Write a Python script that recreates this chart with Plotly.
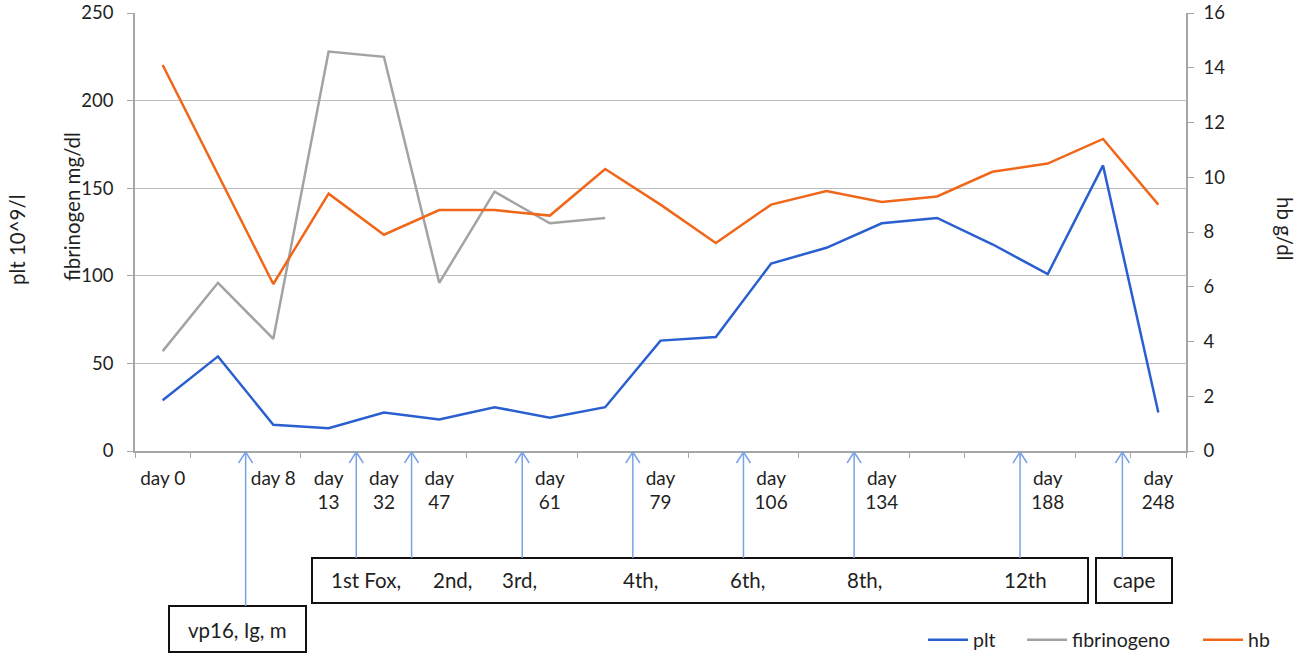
import plotly.graph_objects as go

# ---------------- data ----------------
x_index = list(range(19))
x_labels = ["day 0", "", "day 8", "day<br>13", "day<br>32", "day<br>47", "",
            "day<br>61", "", "day<br>79", "", "day<br>106", "", "day<br>134",
            "", "", "day<br>188", "", "day<br>248"]
plt_vals = [29, 54, 15, 13, 22, 18, 25, 19, 25, 63, 65, 107, 116, 130, 133,
            118, 101, 163, 22]
fib_vals = [57, 96, 64, 228, 225, 96, 148, 130, 133, None, None, None, None,
            None, None, None, None, None, None]
hb_vals = [14.1, 10.1, 6.1, 9.4, 7.9, 8.8, 8.8, 8.6, 10.3, 9.0, 7.6, 9.0, 9.5,
           9.1, 9.3, 10.2, 10.5, 11.4, 9.0]

series_names = ["plt", "fibrinogeno", "hb"]
box_texts = ["vp16, Ig, m", "1st Fox,", "2nd,", "3rd,", "4th,", "6th,", "8th,",
             "12th", "cape"]
# positions (category boundaries) where treatment arrows point
fox_arrows = [3.5, 4.5, 6.5, 8.5, 10.5, 12.5, 15.5]
vp_arrow = 1.5
cape_arrow = 17.35

# ---------------- geometry helpers ----------------
W, H = 1299, 660
PLOT_L, PLOT_R, PLOT_T, PLOT_B = 135, 1186, 13, 451   # target page pixels
ML = PLOT_L
MT = PLOT_T
PW = PLOT_R - PLOT_L
PH = PLOT_B - PLOT_T
MR = W - ML - PW
MB = H - MT - PH


def px(xp):
    return (xp - PLOT_L) / PW


def py(yp):
    return (PLOT_B - yp) / PH


FONT = "Lato"
TXT = "#1f1f1f"
GRID = "#bdbdbd"
AXL = "#a6a6a6"
BLUE = "#2a5fd0"
GRAY = "#a3a3a3"
ORANGE = "#f0671a"
ARROW = "#7aa3e5"

legend_ids = ["legend", "legend2", "legend3"]
fig = go.Figure()
fig.add_trace(go.Scatter(x=x_index, y=plt_vals, name=series_names[0], mode="lines",
                         line=dict(color=BLUE, width=2.5), yaxis="y",
                         legend=legend_ids[0]))
fig.add_trace(go.Scatter(x=x_index, y=fib_vals, name=series_names[1], mode="lines",
                         line=dict(color=GRAY, width=2.5), yaxis="y",
                         legend=legend_ids[1]))
fig.add_trace(go.Scatter(x=x_index, y=hb_vals, name=series_names[2], mode="lines",
                         line=dict(color=ORANGE, width=2.5), yaxis="y2",
                         legend=legend_ids[2]))

shapes = []
annotations = []

# boxes
boxes = [
    (169, 606, 306, 652),
    (312, 558, 1088, 603),
    (1096, 558, 1172, 603),
]
for (x0, y0, x1, y1) in boxes:
    shapes.append(dict(type="rect", xref="paper", yref="paper",
                       x0=px(x0), x1=px(x1), y0=py(y0), y1=py(y1),
                       line=dict(color="#111111", width=2), fillcolor="rgba(0,0,0,0)"))

# arrows
arrow_specs = [(vp_arrow, 606)] + [(a, 558) for a in fox_arrows] + [(cape_arrow, 558)]
for (xa, ybot) in arrow_specs:
    shapes.append(dict(type="line", xref="x", yref="paper", x0=xa, x1=xa,
                       y0=py(ybot), y1=py(452), line=dict(color=ARROW, width=1.5)))
    for dx in (-7, 7):
        shapes.append(dict(type="line", xref="x", yref="paper",
                           xsizemode="pixel", xanchor=xa,
                           ysizemode="pixel", yanchor=py(452),
                           x0=0, y0=0, x1=dx, y1=-11,
                           line=dict(color=ARROW, width=1.5)))

# box texts
BOXFONT = dict(family=FONT, size=20.5, color=TXT)
annotations.append(dict(text=box_texts[0], xref="paper", yref="paper",
                        x=px(237), y=py(630), xanchor="center", yanchor="middle",
                        showarrow=False, font=BOXFONT))
fox_lefts = [329, 431, 500, 621, 728, 845, 1002]
for t, xl in zip(box_texts[1:8], fox_lefts):
    annotations.append(dict(text=t, xref="paper", yref="paper", x=px(xl), y=py(580),
                            xanchor="left", yanchor="middle", showarrow=False,
                            font=BOXFONT))
annotations.append(dict(text=box_texts[8], xref="paper", yref="paper",
                        x=px(1134), y=py(580), xanchor="center", yanchor="middle",
                        showarrow=False, font=BOXFONT))

# axis titles
TFONT = dict(family=FONT, size=20.5, color=TXT)
annotations.append(dict(text="fibrinogen mg/dl", xref="paper", yref="paper",
                        x=px(72), y=py(207), textangle=-90, showarrow=False,
                        xanchor="center", yanchor="middle", font=TFONT))
annotations.append(dict(text="plt 10^9/l", xref="paper", yref="paper",
                        x=px(17), y=py(240), textangle=-90, showarrow=False,
                        xanchor="center", yanchor="middle", font=TFONT))
annotations.append(dict(text="hb g/dl", xref="paper", yref="paper",
                        x=px(1285), y=py(228), textangle=90, showarrow=False,
                        xanchor="center", yanchor="middle", font=TFONT))

LEGFONT = dict(family=FONT, size=19.5, color=TXT)
leg_common = dict(orientation="h", yanchor="middle", y=py(640), xanchor="left",
                  font=LEGFONT, bgcolor="rgba(0,0,0,0)", borderwidth=0,
                  itemwidth=40)

fig.update_layout(
    width=W, height=H,
    margin=dict(l=ML, r=MR, t=MT, b=MB, pad=0, autoexpand=False),
    paper_bgcolor="white", plot_bgcolor="white",
    font=dict(family=FONT, size=17, color=TXT),
    showlegend=True,
    legend=dict(x=px(928 - 5), **leg_common),
    legend2=dict(x=px(1027 - 5), **leg_common),
    legend3=dict(x=px(1203 - 5), **leg_common),
    xaxis=dict(type="category", range=[-0.5, 18.5], tickmode="array",
               tickvals=x_index, ticktext=x_labels, tickson="boundaries",
               ticks="outside", ticklen=5, tickcolor=AXL, showgrid=False,
               showline=True, linecolor=AXL, linewidth=1.5, zeroline=False,
               automargin=False, ticklabelstandoff=9,
               tickfont=dict(family=FONT, size=19, color=TXT)),
    yaxis=dict(range=[0, 250], dtick=50, showgrid=True, gridcolor=GRID, gridwidth=1.2,
               zeroline=False, showline=True, linecolor=AXL, linewidth=1.5,
               ticks="outside", ticklen=6, tickcolor=AXL, automargin=False,
               ticklabelstandoff=10, ticklabeloverflow="allow",
               tickfont=dict(family=FONT, size=18.5, color=TXT)),
    yaxis2=dict(range=[0, 16], dtick=2, overlaying="y", side="right", showgrid=False,
                zeroline=False, showline=True, linecolor=AXL, linewidth=1.5,
                ticks="outside", ticklen=6, tickcolor=AXL, automargin=False,
                ticklabelstandoff=6, ticklabeloverflow="allow",
                tickfont=dict(family=FONT, size=18.5, color=TXT)),
    shapes=shapes,
    annotations=annotations,
)

fig.write_html("out.html", config={"displayModeBar": False},
               post_script="document.body.style.margin='0';")
